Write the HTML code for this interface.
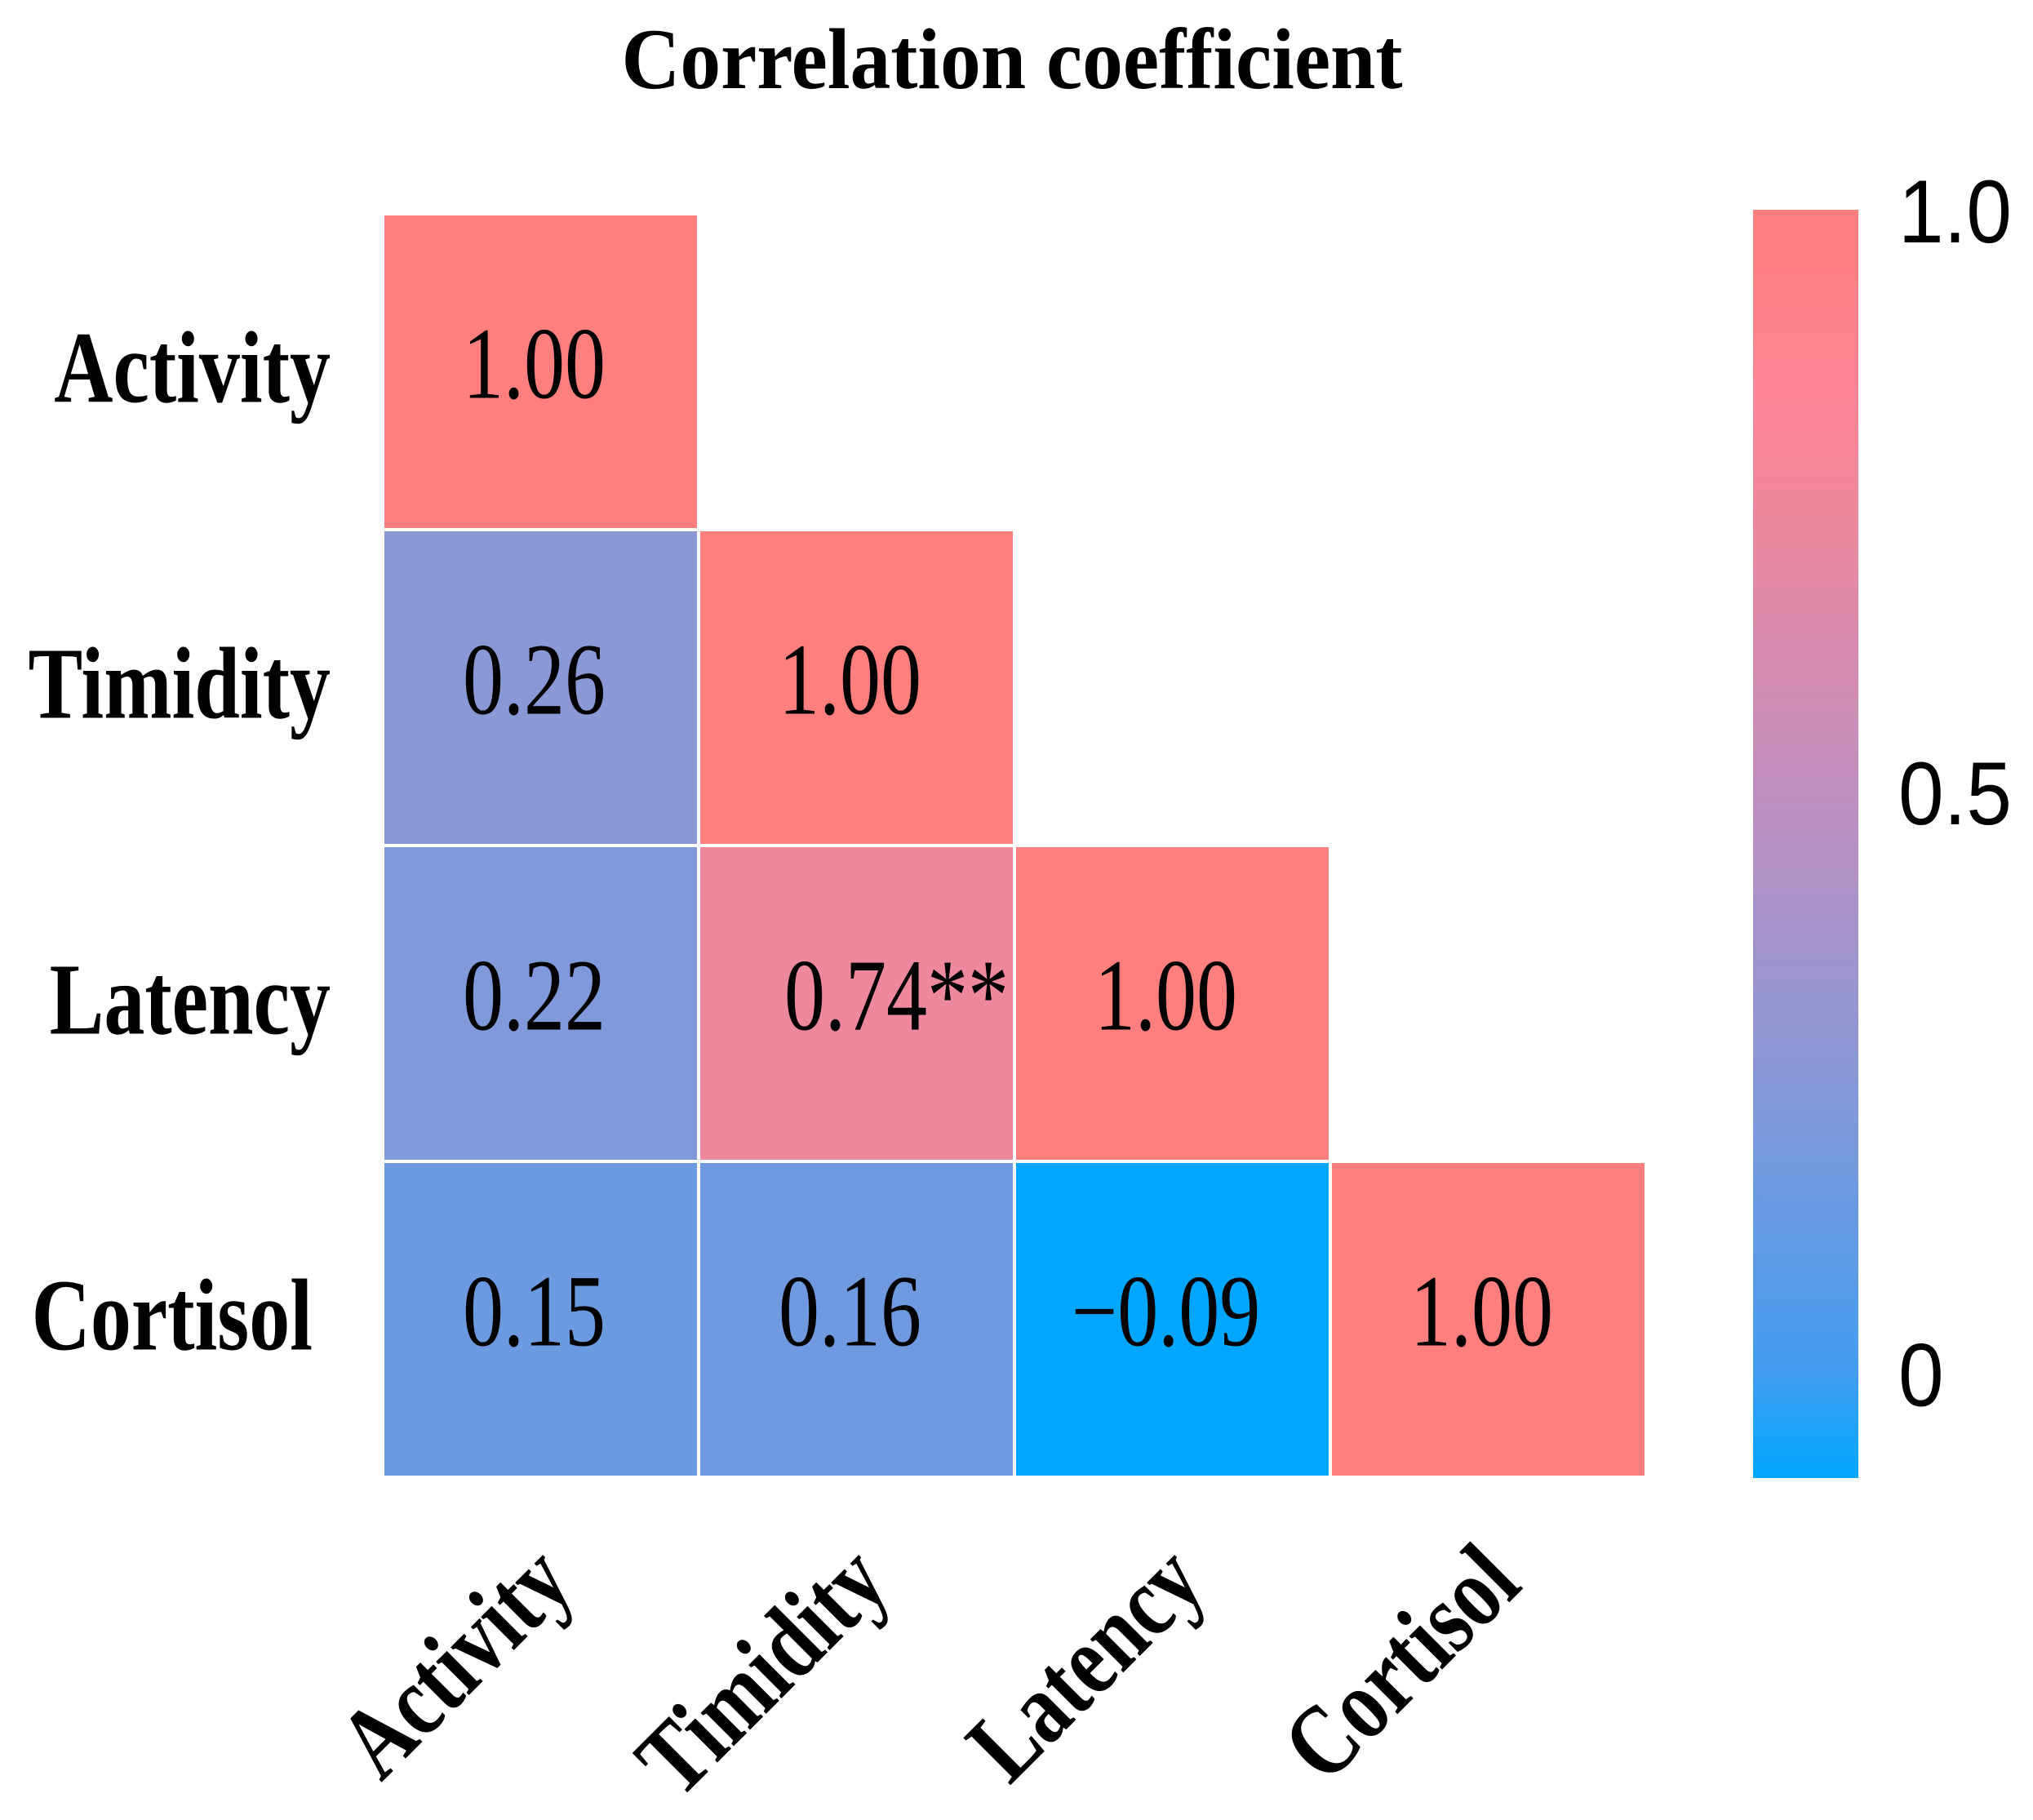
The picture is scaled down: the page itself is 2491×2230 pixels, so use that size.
<!DOCTYPE html>
<html><head><meta charset="utf-8"><style>html,body{margin:0;padding:0;background:#fff}svg{display:block}</style></head>
<body>
<svg id="chart" width="2491" height="2230" viewBox="0 0 2491 2230" xmlns="http://www.w3.org/2000/svg">
<defs>
<linearGradient id="cbGrad" x1="0" y1="1" x2="0" y2="0"></linearGradient>
</defs>
<text x="1240" y="108" text-anchor="middle" font-family="Liberation Serif, serif" font-weight="bold" font-size="106" textLength="957" lengthAdjust="spacingAndGlyphs">Correlation coefficient</text>
<g id="cells"></g>
<g id="rowLabels"></g>
<g id="colLabels"></g>
<rect id="cbRect" x="2148" y="257" width="129" height="1554" fill="url(#cbGrad)"></rect>
<g id="cbTicks"></g>
</svg>
<script>
const categories = ["Activity", "Timidity", "Latency", "Cortisol"];
const row0 = [1.00];
const row1 = [0.26, 1.00];
const row2 = [0.22, 0.74, 1.00];
const row3 = [0.15, 0.16, -0.09, 1.00];
const rowValues = [row0, row1, row2, row3];
const cellLabels = [["1.00"], ["0.26", "1.00"], ["0.22", "0.74**", "1.00"], ["0.15", "0.16", "\u22120.09", "1.00"]];
const cbTickValues = [0, 0.5, 1.0];
const cbTickLabels = ["0", "0.5", "1.0"];
const cbMin = -0.09, cbMax = 1.0;

const NS = "http://www.w3.org/2000/svg";
const gx0 = 469, gy0 = 262, cell = 387;
const cbTop = 257, cbBottom = 1811;
function xPos(i){ return gx0 + i*cell; }
function yPos(j){ return gy0 + j*cell; }
function cbY(v){ return cbBottom - (v - cbMin)/(cbMax - cbMin)*(cbBottom - cbTop); }

const stops = [[-0.09,[0,166,255]],[0.0,[67,157,240]],[0.26,[138,152,214]],[0.5,[191,143,190]],[0.74,[238,136,157]],[0.85,[255,133,150]],[1.0,[255,127,127]]];
function color(v){
  for(let k=0;k<stops.length-1;k++){
    const a=stops[k], b=stops[k+1];
    if(v<=b[0]){ const t=Math.max(0,(v-a[0])/(b[0]-a[0])); const c=a[1].map((x,i)=>Math.round(x+(b[1][i]-x)*t)); return `rgb(${c[0]},${c[1]},${c[2]})`; }
  }
  const c=stops[stops.length-1][1]; return `rgb(${c[0]},${c[1]},${c[2]})`;
}
const grad=document.getElementById('cbGrad');
stops.forEach(s=>{ const st=document.createElementNS(NS,'stop'); st.setAttribute('offset',((s[0]-cbMin)/(cbMax-cbMin)).toFixed(4)); st.setAttribute('stop-color',color(s[0])); grad.appendChild(st); });

const cg=document.getElementById('cells');
rowValues.forEach((row,j)=>{
  row.forEach((v,i)=>{
    const r=document.createElementNS(NS,'rect');
    
    
    r.setAttribute('x',xPos(i)); r.setAttribute('y',yPos(j));
    r.setAttribute('width',cell); r.setAttribute('height',cell);
    r.setAttribute('fill',color(v)); r.setAttribute('stroke','#fff'); r.setAttribute('stroke-width','4');
    cg.appendChild(r);
    const t=document.createElementNS(NS,'text');
    
    
    const lbl=cellLabels[j][i];
    const cx=xPos(i)+cell/2, cy=yPos(j)+cell/2+32;
    t.setAttribute('font-family','Liberation Serif, serif'); t.setAttribute('font-size','100');
    if(lbl.indexOf('*')>=0){ t.setAttribute('text-anchor','start'); t.setAttribute('transform',`translate(${xPos(i)+105},${cy}) scale(1,1.25)`); }
    else { t.setAttribute('text-anchor','middle'); t.setAttribute('transform',`translate(${cx-8},${cy}) scale(1,1.25)`); }
    t.textContent=lbl;
    cg.appendChild(t);
  });
});
const rl=document.getElementById('rowLabels');
categories.forEach((c,j)=>{
  const t=document.createElementNS(NS,'text');
  
  
  t.setAttribute('font-family','Liberation Serif, serif'); t.setAttribute('font-weight','bold'); t.setAttribute('font-size','100');
  t.setAttribute('text-anchor','end');
  t.setAttribute('transform',`translate(${j===3?383:405},${yPos(j)+cell/2+37}) scale(1,1.25)`);
  t.textContent=c; rl.appendChild(t);
});
const clg=document.getElementById('colLabels');
categories.forEach((c,i)=>{
  const t=document.createElementNS(NS,'text');
  
  
  t.setAttribute('font-family','Liberation Serif, serif'); t.setAttribute('font-weight','bold'); t.setAttribute('font-size','100');
  t.setAttribute('text-anchor','end');
  t.setAttribute('transform',`translate(${xPos(i)+cell/2+44},${1945}) rotate(-45) scale(1,1.25)`);
  t.textContent=c; clg.appendChild(t);
});
const tg=document.getElementById('cbTicks');
cbTickValues.forEach((v,k)=>{
  const t=document.createElementNS(NS,'text');
  
  
  t.setAttribute('font-family','Liberation Sans, sans-serif'); t.setAttribute('font-size','100');
  t.setAttribute('transform',`translate(2326,${cbY(v)+40}) scale(1,1.1)`);
  t.textContent=cbTickLabels[k]; tg.appendChild(t);
});
</script>
</body></html>
